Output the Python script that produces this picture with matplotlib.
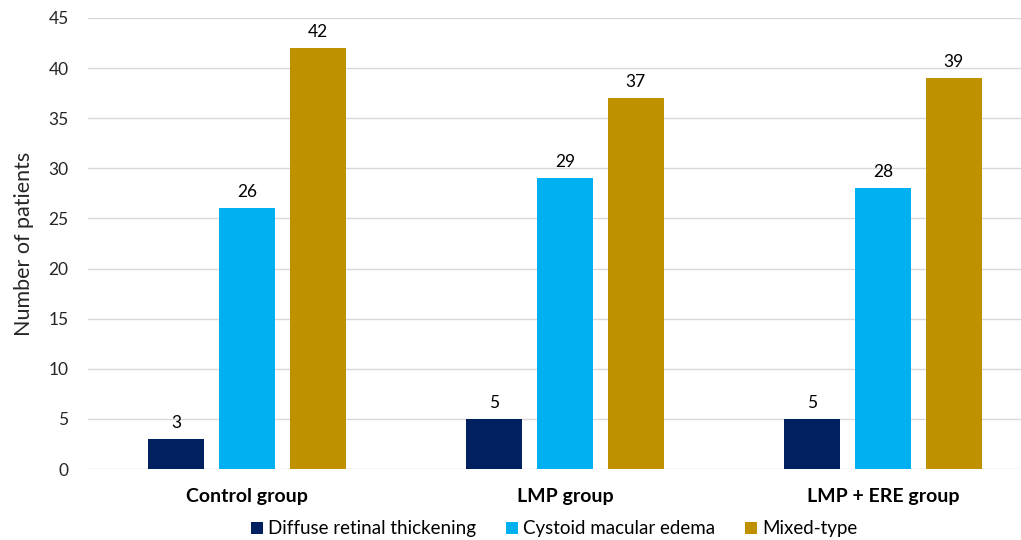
import numpy as np
import matplotlib.pyplot as plt
from matplotlib.patches import Patch

groups = ["Control group", "LMP group", "LMP + ERE group"]
series = ["Diffuse retinal thickening", "Cystoid macular edema", "Mixed-type"]
diffuse = [3, 5, 5]
cystoid = [26, 29, 28]
mixed = [42, 37, 39]
colors = ["#002060", "#00B0F0", "#BF9000"]

plt.rcParams['font.family'] = ['Lato', 'DejaVu Sans']

fig = plt.figure(figsize=(10.21, 5.4), dpi=100)
ax = fig.add_axes([88 / 1021, 1 - 469 / 540, 1 - 88 / 1021, (469 - 18) / 540])

x = np.arange(len(groups))
width = 0.176
offset = 0.222
for i, (vals, col) in enumerate(zip([diffuse, cystoid, mixed], colors)):
    pos = x + (i - 1) * offset
    bars = ax.bar(pos, vals, width, color=col, zorder=3)
    for b, v in zip(bars, vals):
        ax.text(b.get_x() + b.get_width() / 2, v + 0.8, str(v),
                ha='center', va='bottom', fontsize=12.5, color='#000000')

ax.set_xlim(-0.5, (1021 - 247) / 318)
ax.set_ylim(0, 45)
ax.set_yticks(range(0, 46, 5))
ax.yaxis.grid(True, color='#D9D9D9', linewidth=1, zorder=0)
ax.set_axisbelow(True)
for s in ax.spines.values():
    s.set_visible(False)
ax.tick_params(axis='y', length=0, labelsize=12.5, pad=14, colors='#262626')
ax.tick_params(axis='x', length=0, pad=14)
ax.set_xticks(x)
ax.set_xticklabels(groups, fontsize=14, fontweight='bold')
ax.set_ylabel("Number of patients", fontsize=15.5, color='#262626', labelpad=10)

handles = [Patch(facecolor=c, label=l) for c, l in zip(colors, series)]
fig.legend(handles=handles, loc='lower center', bbox_to_anchor=(0.543, -0.026),
           ncol=3, frameon=False, fontsize=13.5, handlelength=0.6, handleheight=0.6,
           handletextpad=0.3, columnspacing=1.6)

fig.savefig("out.png", dpi=100)
